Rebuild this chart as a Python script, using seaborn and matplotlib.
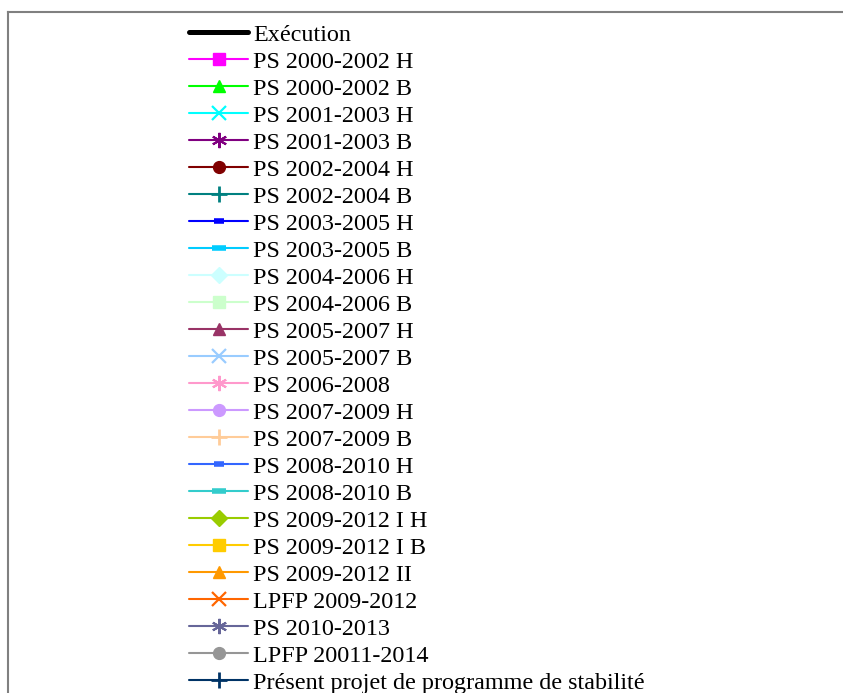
import matplotlib
matplotlib.use("Agg")
import matplotlib.pyplot as plt
import seaborn as sns

# séries de la légende (le graphique lui-même est hors cadre)
labels = [
    "Exécution",
    "PS 2000-2002 H", "PS 2000-2002 B",
    "PS 2001-2003 H", "PS 2001-2003 B",
    "PS 2002-2004 H", "PS 2002-2004 B",
    "PS 2003-2005 H", "PS 2003-2005 B",
    "PS 2004-2006 H", "PS 2004-2006 B",
    "PS 2005-2007 H", "PS 2005-2007 B",
    "PS 2006-2008",
    "PS 2007-2009 H", "PS 2007-2009 B",
    "PS 2008-2010 H", "PS 2008-2010 B",
    "PS 2009-2012 I H", "PS 2009-2012 I B", "PS 2009-2012 II",
    "LPFP 2009-2012",
    "PS 2010-2013",
    "LPFP 20011-2014",
    "Présent projet de programme de stabilité",
]
colors = [
    "#000000",
    "#ff00ff", "#00ff00",
    "#00ffff", "#800080",
    "#800000", "#008080",
    "#0000ff", "#00ccff",
    "#ccffff", "#ccffcc",
    "#993366", "#99ccff",
    "#ff99cc",
    "#cc99ff", "#ffcc99",
    "#3366ff", "#33cccc",
    "#99cc00", "#ffcc00", "#ff9900",
    "#ff6600",
    "#666699",
    "#969696",
    "#003366",
]
asterisk = (6, 2, 0)
markers = [
    None,
    "s", "^",
    "x", asterisk,
    "o", "+",
    "_", "_",
    "D", "s",
    "^", "x",
    asterisk,
    "o", "+",
    "_", "_",
    "D", "s", "^",
    "x",
    asterisk,
    "o",
    "+",
]
# taille des marqueurs (pt) et épaisseur du trait
sizes = {"s": 8, "^": 9, "x": 10, asterisk: 11, "o": 8.5, "+": 11, "_": 7, "D": 8}
widths = {"s": 1, "^": 1, "x": 1.6, asterisk: 1.5, "o": 1, "+": 2, "_": 4, "D": 1}

sns.set_style("white")
plt.rcParams["font.family"] = ["Liberation Serif", "DejaVu Serif"]
plt.rcParams["text.color"] = "black"

fig = plt.figure(figsize=(8.43, 6.93), dpi=100)
ax = fig.add_axes([8 / 843, -0.2, 1.2, 1.2 - 12 / 693])
ax.set_xticks([])
ax.set_yticks([])
for s in ax.spines.values():
    s.set_color("#808080")
    s.set_linewidth(1.5)

handles = []
for lab, col, mk in zip(labels, colors, markers):
    if mk is None:
        h, = ax.plot([], [], color=col, lw=3.6, solid_capstyle="round", label=lab)
    else:
        ms = sizes[mk]
        if mk == "_" and col in ("#00ccff", "#33cccc"):
            ms = 10
        h, = ax.plot([], [], color=col, lw=1.5, marker=mk, ms=ms, mew=widths[mk], label=lab)
    handles.append(h)

fig.legend(handles=handles, loc="upper left", bbox_to_anchor=(189 / 843, 1 - 24 / 693),
           frameon=False, fontsize=17.4, handlelength=2.45, handletextpad=0.2,
           labelspacing=0.21, borderpad=0, borderaxespad=0)

fig.savefig("out.png", dpi=100)
